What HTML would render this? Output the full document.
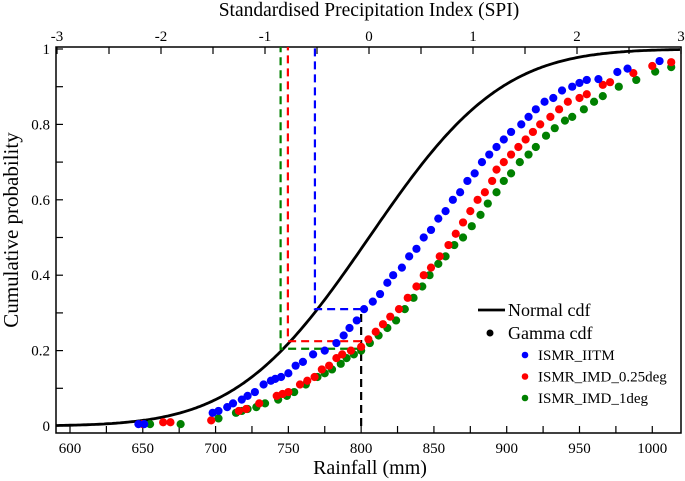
<!DOCTYPE html>
<html><head><meta charset="utf-8"><style>
body{margin:0;background:#fff}
svg{display:block;font-family:"Liberation Serif",serif}
</style></head><body>
<svg id="chart" width="685" height="481" viewBox="0 0 685 481" xmlns="http://www.w3.org/2000/svg">
<g id="axes"></g>
<g id="marks"></g>
<g id="legend"></g>
</svg>
<script>
const bottomTicks=[600,650,700,750,800,850,900,950,1000];
const topTicks=[-3,-2,-1,0,1,2,3];
const leftTicks=[0,0.2,0.4,0.6,0.8,1];
const iitmMm=[647,651,698,702,708,712,718,722,727,733,738,741,745,750,755,760,767,775,783,788,792,797,802,808,813,818,822,828,833,838,843,848,853,858,863,868,873,878,883,888,893,898,903,910,915,920,926,932,938,945,950,955,963,976,983,1005];
const iitmP=[0.005,0.005,0.035,0.04,0.05,0.06,0.07,0.08,0.09,0.11,0.12,0.125,0.13,0.14,0.16,0.17,0.19,0.2,0.22,0.24,0.26,0.28,0.31,0.33,0.35,0.38,0.4,0.42,0.45,0.47,0.5,0.52,0.55,0.57,0.6,0.62,0.65,0.67,0.7,0.72,0.74,0.76,0.78,0.8,0.82,0.84,0.86,0.87,0.89,0.9,0.91,0.918,0.92,0.939,0.948,0.968];
const imd025Mm=[650,664,669,697,716,721,730,742,746,750,758,763,768,773,778,783,787,793,800,805,810,815,820,826,832,838,843,848,854,860,865,870,875,880,885,890,893,898,903,908,913,918,923,930,936,942,950,955,966,971,987,1000,1013];
const imd025P=[0.005,0.01,0.01,0.015,0.04,0.045,0.06,0.08,0.085,0.09,0.11,0.12,0.13,0.15,0.16,0.18,0.19,0.2,0.21,0.23,0.25,0.27,0.29,0.31,0.34,0.37,0.4,0.42,0.45,0.48,0.51,0.54,0.57,0.6,0.62,0.65,0.68,0.7,0.72,0.74,0.76,0.78,0.8,0.82,0.84,0.86,0.87,0.88,0.905,0.912,0.936,0.955,0.965];
const imd1Mm=[655,676,702,714,718,722,728,734,743,749,754,762,770,775,780,786,790,795,800,806,812,818,824,830,836,842,847,853,858,864,870,876,882,887,893,898,903,909,915,920,927,933,940,945,953,960,966,977,989,1002,1013];
const imd1P=[0.005,0.005,0.02,0.035,0.04,0.045,0.05,0.06,0.07,0.08,0.09,0.11,0.13,0.14,0.15,0.165,0.18,0.19,0.2,0.22,0.24,0.26,0.28,0.31,0.34,0.37,0.4,0.43,0.45,0.48,0.5,0.53,0.56,0.59,0.62,0.65,0.67,0.7,0.72,0.74,0.77,0.79,0.81,0.82,0.84,0.86,0.875,0.9,0.918,0.94,0.952];
const thresholdP=[0.31,0.225,0.205];
const thresholdSpi=[-0.52,-0.78,-0.85];
const thresholdMm=800;

const NS="http://www.w3.org/2000/svg";
const L=56,R=681,T=47,B=433;
const xMm=v=>70+(v-600)*1.4557;
const xSpi=v=>369+v*104;
const yP=v=>426-v*377;
function mk(tag,attrs,parent,text){const e=document.createElementNS(NS,tag);for(const k in attrs)e.setAttribute(k,attrs[k]);if(text!==undefined)e.textContent=text;parent.appendChild(e);return e;}
const ax=document.getElementById('axes'),mg=document.getElementById('marks'),lg=document.getElementById('legend');

let fr=mk('rect',{x:L,y:T,width:R-L,height:B-T,fill:'none',stroke:'#000','stroke-width':1.5},ax);


for(let v=600;v<=1000;v+=25){const x=xMm(v);const t=mk('line',{x1:x,x2:x,y1:B,y2:B-7,stroke:'#000','stroke-width':1.2},ax);

}
bottomTicks.forEach(v=>{const t=mk('text',{x:xMm(v),y:453,'text-anchor':'middle','font-size':15},ax,String(v));

});
for(let v=-3;v<=3.001;v+=0.5){const x=xSpi(v);const t=mk('line',{x1:x,x2:x,y1:T,y2:T+7,stroke:'#000','stroke-width':1.2},ax);

}
topTicks.forEach(v=>{const t=mk('text',{x:xSpi(v),y:41,'text-anchor':'middle','font-size':15},ax,String(v));

});
for(let v=0;v<=1.001;v+=0.1){const y=yP(v);const t=mk('line',{x1:L,x2:L+7,y1:y,y2:y,stroke:'#000','stroke-width':1.2},ax);

}
leftTicks.forEach(v=>{const t=mk('text',{x:50,y:yP(v)+5,'text-anchor':'end','font-size':15},ax,String(v));

});
let tt=mk('text',{x:369,y:16,'text-anchor':'middle','font-size':19.5},ax,'Standardised Precipitation Index (SPI)');


tt=mk('text',{x:370,y:474,'text-anchor':'middle','font-size':20},ax,'Rainfall (mm)');


tt=mk('text',{x:0,y:0,'text-anchor':'middle','font-size':21,transform:'translate(18,230) rotate(-90)'},ax,'Cumulative probability');



function erf(x){const s=Math.sign(x);x=Math.abs(x);const t=1/(1+0.3275911*x);const y=1-(((((1.061405429*t-1.453152027)*t)+1.421413741)*t-0.284496736)*t+0.254829592)*t*Math.exp(-x*x);return s*y;}
let d='';for(let px=L;px<=R;px+=2){const s=(px-369)/104;const p=0.5*(1+erf(s/Math.SQRT2));d+=(d?'L':'M')+px+','+yP(p).toFixed(1);}
let nc=mk('path',{d:d,fill:'none',stroke:'#000','stroke-width':2.8},mg);



const cols=['#0000ff','#ff0000','#008000'];
const xb=xMm(thresholdMm);
let bl=mk('line',{x1:xb,x2:xb,y1:yP(0),y2:yP(thresholdP[0]),stroke:'#000','stroke-width':2.2,'stroke-dasharray':'8,5'},mg);


thresholdP.forEach((p,i)=>{const xs=xSpi(thresholdSpi[i]);
const pl=mk('polyline',{points:`${xb},${yP(p)} ${xs},${yP(p)} ${xs},${T}`,fill:'none',stroke:cols[i],'stroke-width':2.2,'stroke-dasharray':'8,5'},mg);

});

function pts(mm,p,c,name){mm.forEach((v,i)=>{const e=mk('circle',{cx:xMm(v),cy:yP(p[i]),r:4.1,fill:c},mg);

});}
pts(imd1Mm,imd1P,'#008000','imd-1deg-point');
pts(imd025Mm,imd025P,'#ff0000','imd-025deg-point');
pts(iitmMm,iitmP,'#0000ff','iitm-point');

let e=mk('line',{x1:478,x2:505,y1:310,y2:310,stroke:'#000','stroke-width':2.8},lg);


e=mk('text',{x:508,y:316,'font-size':18},lg,'Normal cdf');


e=mk('circle',{cx:490,cy:333,r:3.5,fill:'#000'},lg);


e=mk('text',{x:508,y:339,'font-size':18},lg,'Gamma cdf');


const lgNames=['ISMR_IITM','ISMR_IMD_0.25deg','ISMR_IMD_1deg'];
lgNames.forEach((n,i)=>{const y=355+i*21.5;
const c=mk('circle',{cx:525,cy:y,r:3.3,fill:cols[i]},lg);


const t=mk('text',{x:538,y:y+5,'font-size':15},lg,n);

});
</script>
</body></html>
